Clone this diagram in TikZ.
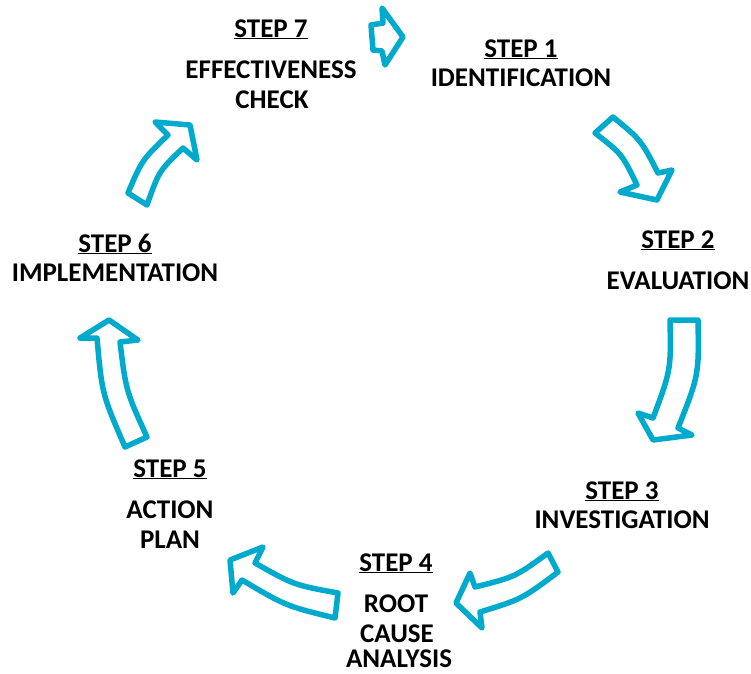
\documentclass[tikz,border=0pt]{standalone}
\usepackage{fontspec}
\setmainfont{Carlito}
\definecolor{arrowblue}{RGB}{0,170,205}
\tikzset{
  blockarrow/.style={draw=arrowblue, line width=5.5pt, line join=round, fill=white},
  lbl/.style={font=\bfseries\fontsize{27}{30}\selectfont, anchor=base, inner sep=0pt, text=black},
}
\begin{document}
\begin{tikzpicture}[x=1pt,y=-1pt]
\useasboundingbox (0,0) rectangle (751,673);
% ---- arrows ----
% arrow 1 (top, 7 -> 1)
\draw[blockarrow] (371,25) -- (383,23) -- (382,8) -- (403,37) -- (385,65) -- (382,51) -- (373,50) -- cycle;
% arrow 2 (1 -> 2)
\draw[blockarrow] (613,117) .. controls (641,140) .. (658,173) -- (672,170) -- (657,200) -- (620,192) -- (637,185) .. controls (622,154) .. (595,133) -- cycle;
% arrow 3 (2 -> 3)
\draw[blockarrow] (698,320) .. controls (699,375) .. (678,428) -- (692,435) -- (653,440) -- (638,413) -- (653,418) .. controls (671,370) .. (670,320) -- cycle;
% arrow 4 (3 -> 4)
\draw[blockarrow] (558,572) .. controls (522,599) .. (480,612) -- (482,628) -- (456,603) -- (470,573) -- (475,587) .. controls (515,577) .. (548,553) -- cycle;
% arrow 5 (4 -> 5)
\draw[blockarrow] (335,618) .. controls (286,606) .. (242,580) -- (233,593) -- (230,560) -- (263,547) -- (255,563) .. controls (294,585) .. (338,593) -- cycle;
% arrow 6 (5 -> 6)
\draw[blockarrow] (125,447) .. controls (102,394) .. (97,338) -- (80,338) -- (109,320) -- (138,340) -- (120,342) .. controls (126,391) .. (147,437) -- cycle;
% arrow 7 (6 -> 7)
\draw[blockarrow] (128,193) .. controls (142,160) .. (168,135) -- (155,122) -- (190,125) -- (197,160) -- (183,148) .. controls (159,171) .. (147,205) -- cycle;
% ---- labels ----
\node[lbl] (s7) at (271,37) {\underline{STEP 7}};
\node[lbl] (s7a) at (271,78) {EFFECTIVENESS};
\node[lbl] (s7b) at (272,108) {CHECK};
\node[lbl] (s1) at (521,57) {\underline{STEP 1}};
\node[lbl] (s1a) at (521,86) {IDENTIFICATION};
\node[lbl] (s2) at (678,248) {\underline{STEP 2}};
\node[lbl] (s2a) at (678,289) {EVALUATION};
\node[lbl] (s3) at (622,499) {\underline{STEP 3}};
\node[lbl] (s3a) at (622,528) {INVESTIGATION};
\node[lbl] (s4) at (396,571) {\underline{STEP 4}};
\node[lbl] (s4a) at (396,612) {ROOT};
\node[lbl] (s4b) at (397,642) {CAUSE};
\node[lbl] (s4c) at (399,667) {ANALYSIS};
\node[lbl] (s5) at (170,477) {\underline{STEP 5}};
\node[lbl] (s5a) at (170,518) {ACTION};
\node[lbl] (s5b) at (170,548) {PLAN};
\node[lbl] (s6) at (115,252) {\underline{STEP 6}};
\node[lbl] (s6a) at (115,281) {IMPLEMENTATION};
\end{tikzpicture}
\end{document}
